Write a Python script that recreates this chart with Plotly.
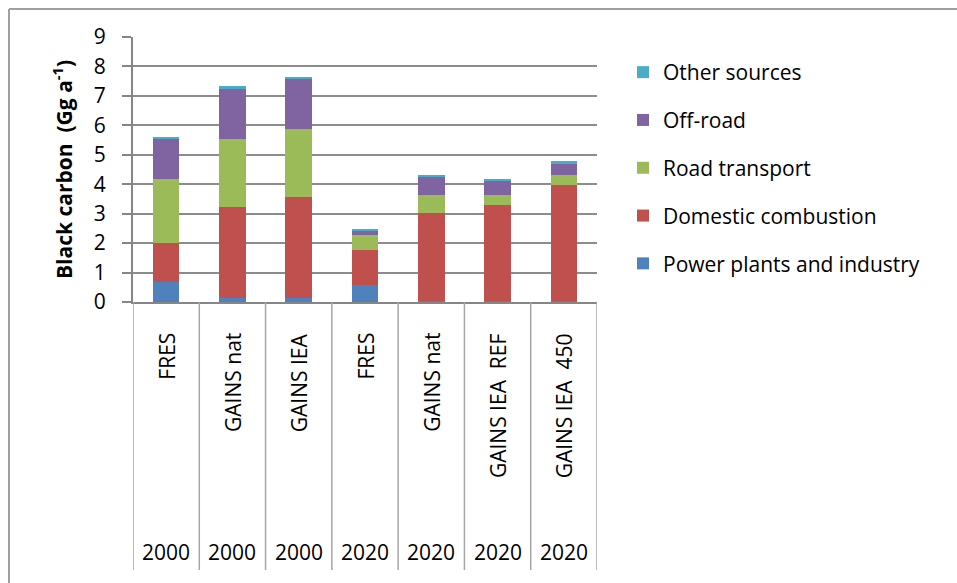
import plotly.graph_objects as go

years = ["2000", "2000", "2000", "2020", "2020", "2020", "2020"]
scenarios = ["FRES", "GAINS nat", "GAINS IEA", "FRES", "GAINS nat", "GAINS IEA  REF", "GAINS IEA  450"]
keys = [f"{y} {s}" for y, s in zip(years, scenarios)]

power = [0.69, 0.15, 0.15, 0.57, 0.02, 0.02, 0.02]
domestic = [1.30, 3.07, 3.41, 1.21, 2.99, 3.26, 3.95]
road = [2.18, 2.31, 2.32, 0.48, 0.61, 0.36, 0.34]
offroad = [1.38, 1.72, 1.70, 0.14, 0.62, 0.46, 0.41]
other = [0.05, 0.07, 0.07, 0.07, 0.07, 0.07, 0.06]

series = [
    ("Power plants and industry", power, "#4F81BD"),
    ("Domestic combustion", domestic, "#C0504D"),
    ("Road transport", road, "#9BBB59"),
    ("Off-road", offroad, "#8064A2"),
    ("Other sources", other, "#4BACC6"),
]

FONT = "Open Sans"
FS = 21
fig = go.Figure()
n = len(series)
for i, (name, vals, col) in enumerate(series):
    fig.add_trace(go.Bar(x=keys, y=vals, name=name, marker=dict(color=col, line=dict(width=0)),
                         width=0.4, legendgroup=f"g{i}", legendrank=n - i))

L, R, T, B = 133, 597, 37, 302
W, H = 957, 583
ph = B - T
pw = R - L

def py(pix):
    return (B - pix) / ph

def px(pix):
    return (pix - L) / pw

annotations = []
for i, (y, s) in enumerate(zip(years, scenarios)):
    annotations.append(dict(x=i, xref="x", y=py(331), yref="paper", text=s, showarrow=False,
                            textangle=-90, xanchor="center", yanchor="top",
                            font=dict(family=FONT, size=FS, color="black")))
    annotations.append(dict(x=i, xref="x", y=py(552), yref="paper", text=y, showarrow=False,
                            xanchor="center", yanchor="middle",
                            font=dict(family=FONT, size=FS, color="black")))
annotations.append(dict(x=px(62), xref="paper", y=py(170), yref="paper",
                        text="<b>Black carbon  (Gg a<sup>-1</sup>)</b>", showarrow=False,
                        textangle=-90, xanchor="center", yanchor="middle",
                        font=dict(family=FONT, size=21, color="black")))

shapes = []
for i in range(8):
    shapes.append(dict(type="line", xref="x", yref="paper", x0=i - 0.5, x1=i - 0.5,
                       y0=0, y1=py(570), line=dict(color="#a6a6a6", width=1.5)))
# outer chart frame
shapes.append(dict(type="line", xref="paper", yref="paper", x0=px(9), x1=px(W + 5), y0=py(9), y1=py(9),
                   line=dict(color="#a0a0a0", width=2)))
shapes.append(dict(type="line", xref="paper", yref="paper", x0=px(9), x1=px(9), y0=py(9), y1=py(H + 5),
                   line=dict(color="#a0a0a0", width=2)))

fig.update_layout(
    width=W, height=H,
    margin=dict(l=L, r=W - R, t=T, b=H - B, autoexpand=False),
    barmode="stack",
    paper_bgcolor="white", plot_bgcolor="white",
    font=dict(family=FONT, size=FS, color="black"),
    showlegend=True,
    legend=dict(traceorder="grouped", tracegroupgap=17.5, x=px(623), xanchor="left",
                y=py(52), yanchor="top", font=dict(family=FONT, size=FS, color="black"),
                itemclick=False, bgcolor="rgba(0,0,0,0)"),
    annotations=annotations,
    shapes=shapes,
)
fig.update_xaxes(type="category", range=[-0.5, 6.5], showticklabels=False, showgrid=False,
                 showline=True, linecolor="#868686", linewidth=2, ticks="", zeroline=False)
fig.update_yaxes(range=[0, 9], dtick=1, showgrid=True, gridcolor="#8c8c8c", gridwidth=2,
                 showline=True, linecolor="#868686", linewidth=2, ticks="outside", ticklen=9,
                 tickcolor="#868686", tickwidth=2, zeroline=False,
                 tickfont=dict(family=FONT, size=FS, color="black"), ticklabelstandoff=12)

fig.write_html("out.html", config={"displayModeBar": False},
               post_script="document.body.style.margin='0';")
